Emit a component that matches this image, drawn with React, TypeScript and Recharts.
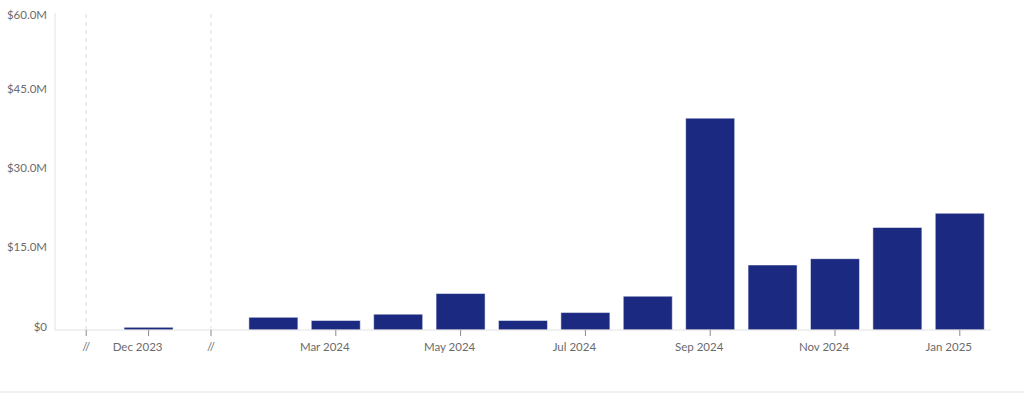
import { BarChart, Bar, XAxis, YAxis, ReferenceLine } from 'recharts';

// gap slots mark skipped months on the axis ("//")
const months = [
  'gap-a', 'Dec 2023', 'gap-b', 'Feb 2024', 'Mar 2024', 'Apr 2024', 'May 2024',
  'Jun 2024', 'Jul 2024', 'Aug 2024', 'Sep 2024', 'Oct 2024', 'Nov 2024', 'Dec 2024', 'Jan 2025',
];
const raisedM = [null, 0.5, null, 2.4, 1.8, 3.0, 6.9, 1.8, 3.3, 6.4, 40.1, 12.3, 13.5, 19.4, 22.1];
const gapKeys = ['gap-a', 'gap-b'];
const xTicks = ['gap-a', 'Dec 2023', 'gap-b', 'Mar 2024', 'May 2024', 'Jul 2024', 'Sep 2024', 'Nov 2024', 'Jan 2025'];
const yTicks = [0, 15, 30, 45, 60];

const data = months.map((m, i) => ({ month: m, value: raisedM[i] }));

const FONT = 'Lato, "Open Sans", sans-serif';
const TEXT = '#6b6b6b';

const fmtMoney = (v: number) => (v === 0 ? '$0' : `$${v.toFixed(1)}M`);

function YTick(props: any) {
  const { x, y, payload } = props;
  const shift = payload.value === 60 ? 2 : -3.5;
  return (
    <text x={x} y={y + shift} dy="0.355em" textAnchor="end" fill={TEXT} fontSize={11.5} fontFamily={FONT}>
      {fmtMoney(payload.value)}
    </text>
  );
}

function XTick(props: any) {
  const { x, y, payload } = props;
  const isGap = gapKeys.includes(payload.value);
  return (
    <text x={isGap ? x : x - 11} y={y} dy="0.71em" textAnchor="middle" fill={TEXT} fontSize={11.5} fontFamily={FONT}>
      {isGap ? '//' : payload.value}
    </text>
  );
}

export default function App() {
  return (
    <div style={{ position: 'absolute', left: 0, top: 0, width: 1024, height: 393, background: '#fff' }}>
      <BarChart
        width={1024}
        height={391}
        data={data}
        margin={{ top: 13, right: 33, bottom: 21, left: 0 }}
        barCategoryGap="10.7%"
      >
        <YAxis
          width={55}
          domain={[0, 60]}
          ticks={yTicks}
          interval={0}
          axisLine={{ stroke: '#e2e2e2' }}
          tickLine={false}
          tick={<YTick />}
        />
        <XAxis
          dataKey="month"
          height={40}
          ticks={xTicks}
          interval={0}
          tickSize={6}
          tickMargin={7}
          axisLine={{ stroke: '#e2e2e2' }}
          tickLine={{ stroke: '#8a8a8a' }}
          tick={<XTick />}
        />
        {gapKeys.map((k) => (
          <ReferenceLine key={k} x={k} stroke="#dcdcdc" strokeDasharray="4 4" />
        ))}
        <Bar
          dataKey="value"
          fill="#1b2a80"
          stroke="#ffffff"
          strokeOpacity={0.5}
          strokeWidth={1}
          isAnimationActive={false}
        />
      </BarChart>
      <div style={{ position: 'absolute', left: 0, top: 391, width: 1024, height: 2, background: '#f0f0f0' }} />
    </div>
  );
}
